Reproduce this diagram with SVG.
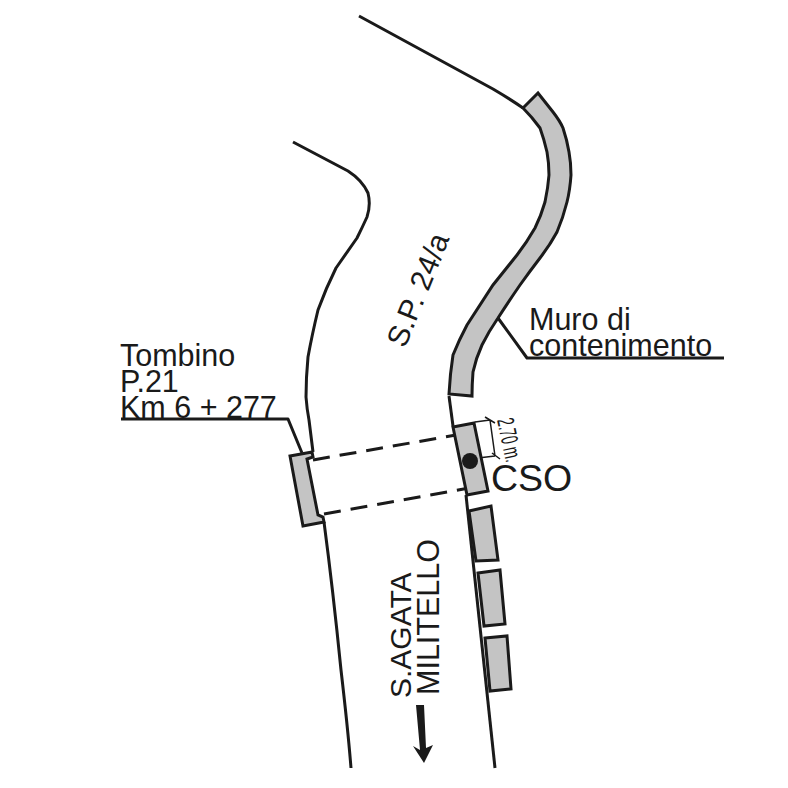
<svg xmlns="http://www.w3.org/2000/svg" width="788" height="788" viewBox="0 0 788 788">
<style>
.l{fill:none;stroke:#1a1a1a;stroke-width:3;stroke-linejoin:round}
.g{fill:#c4c4c4;stroke:#1a1a1a;stroke-width:3;stroke-linejoin:miter}
.d{fill:none;stroke:#1a1a1a;stroke-width:3;stroke-dasharray:17 10}
.t{font-family:"Liberation Sans",Arial,sans-serif;fill:#1a1a1a}
.a{fill:none;stroke:#1a1a1a;stroke-width:1.5}
</style>
<g id="connectors">
<path class="l" d="M359 16L493 89Q510 99 523 108"/>
<path class="l" d="M293 142L348 171Q362 180 368 193Q371 205 367 217Q362 228 357 238L336 268Q326 288 318 310Q312 335 308 357Q306 378 306 397Q307 410 309 420L313 452"/>
<path class="l" d="M324 522Q333 590 341 670Q348 730 351 768"/>
<path class="l" d="M449 396L453 426"/>
<path class="l" d="M466 495L495 768"/>
<path class="d" d="M313 460L456 435"/>
<path class="d" d="M324 514L469 488"/>
<path class="l" d="M121 419H288L302 453"/>
<path class="l" d="M724 358H527L498 318"/>
<path class="a" d="M475 422L490 420M478 458L495 456M485 417L495 423M492 453L500 459M490 420L495 456"/>
</g>
<g id="muro"><path class="g" d="M523 108L538 93L553 112Q560 121 563 128Q567 140 569 152Q571 163 571 175Q570 190 567 202Q563 218 557 232Q550 245 540 258Q530 271 520 285Q509 301 498 318Q489 331 482 345Q476 358 473 372Q472 385 472 396L449 394Q450 374 453 355Q459 340 467 325Q480 305 493 285Q505 270 517 255Q527 242 535 228Q541 216 545 202Q548 188 549 175Q549 163 547 152Q544 139 540 128Q532 117 523 108Z"/></g>
<g id="tombino"><path class="g" d="M290 456L312 452L313 457L307 459L318 515L323 517L324 522L303 526Z"/></g>
<g id="cso"><path class="g" d="M453 427L474 423L488 491L467 495Z"/><circle cx="470" cy="461" r="8" fill="#1a1a1a"/></g>
<g id="slabs">
<path class="g" d="M469 511L491 506L498 560L476 561Z"/>
<path class="g" d="M478 573L500 570L505 624L484 626Z"/>
<path class="g" d="M485 638L507 636L511 689L490 691Z"/>
</g>
<g id="labels">
<text class="t" x="120" y="366" font-size="30.5">Tombino</text>
<text class="t" x="120" y="392" font-size="30.5">P.21</text>
<text class="t" x="120" y="418" font-size="30.5">Km 6 + 277</text>
<text class="t" x="529" y="330" font-size="30.5">Muro di</text>
<text class="t" x="529" y="356" font-size="30.5">contenimento</text>
<text class="t" x="491" y="491" font-size="37.5">CSO</text>
<text class="t" font-size="30" transform="translate(405 349) rotate(-68)">S.P. 24/a</text>
<text class="t" font-size="30" transform="translate(411 698) rotate(-90)">S.AGATA</text>
<text class="t" font-size="30.5" transform="translate(439 695) rotate(-90)">MILITELLO</text>
<text class="t" font-size="24" transform="translate(497 420) rotate(78) scale(.55 1)">2.70 m.</text>
</g>
<g id="arrow"><path fill="#1a1a1a" d="M416 705H424L426 748L433 745L424 763L413 746L420 750Z"/></g>
</svg>
